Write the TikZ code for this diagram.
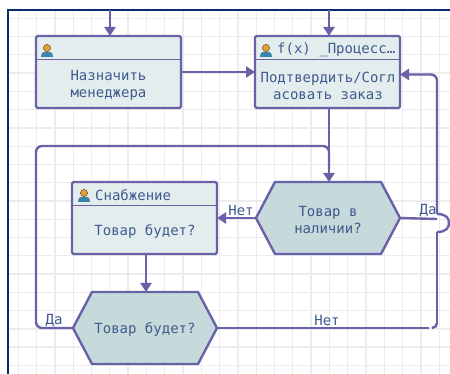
\documentclass[tikz,border=0pt]{standalone}
\usepackage{fontspec}
\setmonofont{DejaVu Sans Mono}
\usetikzlibrary{arrows.meta,calc}
\definecolor{conn}{HTML}{6A62A8}
\definecolor{boxfill}{HTML}{E4EDEE}
\definecolor{hexfill}{HTML}{C6DADB}
\definecolor{txt}{HTML}{3F5A8E}
\definecolor{frameblue}{HTML}{0B2A6B}
\definecolor{gridc}{HTML}{ECECEE}
\definecolor{iconbody}{HTML}{3C82AF}
\definecolor{iconhead}{HTML}{E09E3C}
\definecolor{iconedge}{HTML}{78501E}
\tikzset{
  gridline/.style={gridc,line width=1.3pt},
  taskbox/.style={draw=conn,fill=boxfill,line width=2.4pt,rounded corners=1.5pt,minimum width=145pt,minimum height=72pt,inner sep=0pt,outer sep=0pt},
  decisionarea/.style={rectangle,minimum width=144pt,minimum height=72pt,inner sep=0pt,outer sep=0pt},
  decisionshape/.style={draw=conn,fill=hexfill,line width=2.4pt,line join=round},
  lab/.style={font=\ttfamily\fontsize{14}{17}\selectfont,text=txt,align=center,inner sep=0pt},
  link/.style={draw=conn,line width=2.4pt,rounded corners=6pt},
  arrowed/.style={link,-{Triangle[length=9pt,width=11pt]}},
  divider/.style={draw=conn,line width=1pt},
  personicon/.pic={
    \fill[iconbody] (-6,7) .. controls (-6,2) and (-3,1.5) .. (0,1.5) .. controls (3,1.5) and (6,2) .. (6,7) -- cycle;
    \fill[iconhead,draw=iconedge,line width=.5pt] (0,-2) circle (3.6);
  }
}
\begin{document}
\begin{tikzpicture}[x=1pt,y=-1pt]
\useasboundingbox (0,0) rectangle (450,374);
\fill[white] (0,0) rectangle (450,374);
% grid
\foreach \k in {1,...,24} {\draw[gridline] ({\k*18.3},10) -- ({\k*18.3},374);}
\foreach \k in {1,...,20} {\draw[gridline] (8,{\k*18.27}) -- (450,{\k*18.27});}
% frame
\draw[frameblue,line width=2pt] (7.5,374) -- (7.5,10) -- (450,10);
% boxes
\node[taskbox] (b1) at (108.5,72) {};
\node[taskbox] (b2) at (327.5,72) {};
\node[taskbox] (b3) at (144.5,218) {};
\node[decisionarea] (h1) at (328,218) {};
\node[decisionarea] (h2) at (145,328) {};
\draw[decisionshape] (h1.west) -- ($(h1.north west)+(19,0)$) -- ($(h1.north east)+(-19,0)$) -- (h1.east) -- ($(h1.south east)+(-19,0)$) -- ($(h1.south west)+(19,0)$) -- cycle;
\draw[decisionshape] (h2.west) -- ($(h2.north west)+(19,0)$) -- ($(h2.north east)+(-19,0)$) -- (h2.east) -- ($(h2.south east)+(-19,0)$) -- ($(h2.south west)+(19,0)$) -- cycle;
\node[lab] (h1t) at (328,219.5) {Товар в\\наличии?};
\node[lab] (h2t) at (145,330) {Товар будет?};
% headers
\draw[divider] (b1.west |- 0,60) -- (b1.east |- 0,60);
\draw[divider] (b2.west |- 0,60) -- (b2.east |- 0,60);
\draw[divider] (b3.west |- 0,206) -- (b3.east |- 0,206);
\pic at (47,50) {personicon};
\pic at (266,50) {personicon};
\pic at (84,195) {personicon};
\node[lab,anchor=west] (b2h) at (277,49.5) {f(x) \_Процесс…};
\node[lab,anchor=west] (b3h) at (95,195.5) {Снабжение};
\node[lab] (b1t) at (108.5,85.5) {Назначить\\менеджера};
\node[lab] (b2t) at (328,85.5) {Подтвердить/Согл\\асовать заказ};
\node[lab] (b3t) at (145,232) {Товар будет?};
% free ends
\coordinate (in1) at (110,10);
\coordinate (in2) at (329,10);
\coordinate (c1) at (36,328);
\coordinate (c2) at (36,146);
\coordinate (c3) at (329,146);
\coordinate (e1) at (429,328);
\coordinate (e2) at (432,328);
\coordinate (e3) at (437,323);
\coordinate (e4) at (437,232);
\coordinate (e5) at (437,214);
\coordinate (e6) at (437,74.5);
\coordinate (jn) at (437,219);
% connectors
\draw[arrowed] (in1) -- (in1 |- b1.north);
\draw[arrowed] (in2) -- (in2 |- b2.north);
\draw[arrowed] (b1.east) -- (b2.west);
\draw[arrowed] (in2 |- b2.south) -- (in2 |- h1.north);
\draw[link] (h2.west) -- (c1) -- (c2) -- (c3) -- (in2 |- 0,170);
\draw[arrowed] (h1.west) -- (b3.east);
\draw[arrowed] (146,254) -- (146,292);
\draw[link] (h1.east) -- (jn);
\draw[link] (h2.east) -- (e1);
\draw[link,rounded corners=0pt] (e2) arc[start angle=90,end angle=0,radius=5];
\draw[link,rounded corners=0pt] (e3) -- (e4);
\draw[link,rounded corners=0pt] (e4) .. controls (447,232) and (449,227) .. (449,223) .. controls (449,218) and (446,214) .. (e5);
\draw[arrowed] (e5) -- (e6) -- (b2.east |- e6);
% labels
\node[lab] (l1) at (241,210) {Нет};
\node[lab] (l2) at (428,210) {Да};
\node[lab] (l3) at (54,320) {Да};
\node[lab] (l4) at (327,320) {Нет};
\end{tikzpicture}
\end{document}
